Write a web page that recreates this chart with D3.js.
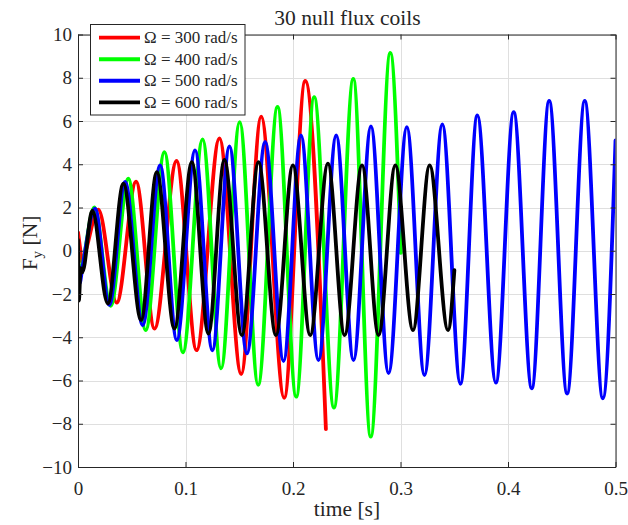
<!DOCTYPE html>
<html><head><meta charset="utf-8">
<script src="https://cdn.jsdelivr.net/npm/d3@7"></script>
<style>
body{margin:0;background:#fff}
svg{display:block}
text{font-family:"Liberation Serif","Times New Roman",serif;fill:#262626}
</style>
</head><body>
<svg id="c" width="628" height="525"></svg>
<script>
// ---- data ----
const xTicks = [0, 0.1, 0.2, 0.3, 0.4, 0.5];
const yTicks = [-10, -8, -6, -4, -2, 0, 2, 4, 6, 8, 10];
const seriesNames = ["\u03A9 = 300 rad/s", "\u03A9 = 400 rad/s", "\u03A9 = 500 rad/s", "\u03A9 = 600 rad/s"];
const seriesColors = ["#ff0000", "#00ff00", "#0000ff", "#000000"];

// 300 rad/s (red) – start + extrema
const t300 = [0, 0.002, 0.0035, 0.006, 0.0189, 0.0360, 0.0540, 0.0712, 0.0917, 0.1103, 0.1316, 0.1518, 0.1704, 0.1918, 0.2114, 0.2306];
const f300 = [0.85, 0.1, -0.5, -0.2, 1.9, -2.4, 3.2, -3.6, 4.15, -4.6, 5.2, -5.7, 6.2, -6.8, 7.85, -8.25];

// 400 rad/s (green)
const t400 = [0, 0.0015, 0.004, 0.0152, 0.0304, 0.0468, 0.0630, 0.0804, 0.0976, 0.1159, 0.1331, 0.1504, 0.1676, 0.1856, 0.2030, 0.2197, 0.2381, 0.2561, 0.2723, 0.2905, 0.3003];
const f400 = [0.2, -1.2, -0.7, 2.0, -2.55, 3.33, -3.67, 4.56, -4.7, 5.15, -5.44, 5.95, -6.2, 6.65, -6.75, 7.1, -7.25, 7.95, -8.6, 9.15, -0.1];

// 500 rad/s (blue)
const t500 = [0, 0.0015, 0.004, 0.0158, 0.0291, 0.0438, 0.0602, 0.0764, 0.0919, 0.1089, 0.1250, 0.1409, 0.1571, 0.1741, 0.1912, 0.2074, 0.2237, 0.2402, 0.2563, 0.2725, 0.2889, 0.3059, 0.3223, 0.3389, 0.3557, 0.3715, 0.3887, 0.4053, 0.4221, 0.4383, 0.4550, 0.4714, 0.4882, 0.5];
const f500 = [-0.5, -1.5, -0.8, 1.95, -2.5, 3.18, -3.44, 3.95, -4.13, 4.64, -4.6, 4.83, -4.75, 5.03, -5.1, 5.33, -5.06, 5.33, -5.06, 5.75, -5.66, 5.72, -5.75, 5.84, -6.15, 6.26, -6.1, 6.41, -6.36, 6.93, -6.6, 6.93, -6.82, 5.1];

// 600 rad/s (black)
const t600 = [0, 0.0008, 0.0025, 0.004, 0.0133, 0.0277, 0.0422, 0.0587, 0.0733, 0.0897, 0.1059, 0.1213, 0.1362, 0.1524, 0.1679, 0.1841, 0.1999, 0.2160, 0.2325, 0.2480, 0.2642, 0.2796, 0.2952, 0.3116, 0.3271, 0.3442, 0.3501];
const f600 = [0.5, -2.3, -0.8, -1.0, 1.85, -2.44, 3.1, -3.2, 3.64, -3.6, 4.1, -3.83, 4.2, -3.9, 4.1, -3.9, 3.95, -3.9, 4.03, -3.9, 3.95, -3.9, 3.95, -3.67, 3.95, -3.67, -0.9];

const seriesT = [t300, t400, t500, t600];
const seriesF = [f300, f400, f500, f600];

// ---- layout ----
const L = 78, R = 615.5, T = 34.5, B = 467;
const svg = d3.select("#c");
const x = d3.scaleLinear().domain([0, 0.5]).range([L, R]);
const y = d3.scaleLinear().domain([-10, 10]).range([B, T]);

svg.append("rect").attr("x", L).attr("y", T).attr("width", R - L).attr("height", B - T).attr("fill", "#fff");

// grid
const grid = svg.append("g").attr("stroke", "#dfdfdf").attr("stroke-width", 1);
grid.selectAll("line.gx").data(xTicks).join("line")
  .attr("x1", d => Math.round(x(d)) + 0.5).attr("x2", d => Math.round(x(d)) + 0.5)
  .attr("y1", T).attr("y2", B);
grid.selectAll("line.gy").data(yTicks).join("line")
  .attr("y1", d => Math.round(y(d)) + 0.5).attr("y2", d => Math.round(y(d)) + 0.5)
  .attr("x1", L).attr("x2", R);

svg.append("clipPath").attr("id", "clip").append("rect")
  .attr("x", L).attr("y", T).attr("width", R - L).attr("height", B - T);

// series
const line = d3.line().x(d => x(d[0])).y(d => y(d[1])).curve(d3.curveMonotoneX);
const plot = svg.append("g").attr("clip-path", "url(#clip)");
seriesT.forEach((ts, i) => {
  const pts = ts.map((t, k) => [t, seriesF[i][k]]);
  plot.append("path").datum(pts)
    .attr("d", line)
    .attr("fill", "none")
    .attr("stroke", seriesColors[i])
    .attr("stroke-width", 3.8)
    .attr("stroke-linejoin", "round")
    .attr("stroke-linecap", "round");
});

// axes
const tickFont = "19px";
function styleAxis(g) {
  g.select(".domain").attr("stroke", "#262626").attr("stroke-width", 1);
  g.selectAll(".tick line").attr("stroke", "#262626");
  g.selectAll(".tick text").attr("fill", "#262626").style("font-size", tickFont)
    .style("font-family", "'Liberation Serif','Times New Roman',serif");
}
const fmtX = d => d === 0 ? "0" : d3.format(".1f")(d);
svg.append("g").attr("transform", `translate(0,${B})`)
  .call(d3.axisBottom(x).tickValues(xTicks).tickFormat(fmtX).tickSize(-5).tickSizeOuter(0).tickPadding(15))
  .call(styleAxis);
svg.append("g").attr("transform", `translate(0,${T})`)
  .call(d3.axisTop(x).tickValues(xTicks).tickFormat("").tickSize(-5).tickSizeOuter(0))
  .call(styleAxis);
svg.append("g").attr("transform", `translate(${L},0)`)
  .call(d3.axisLeft(y).tickValues(yTicks).tickFormat(d3.format("d")).tickSize(-5).tickSizeOuter(0).tickPadding(6))
  .call(styleAxis);
svg.append("g").attr("transform", `translate(${R},0)`)
  .call(d3.axisRight(y).tickValues(yTicks).tickFormat("").tickSize(-5).tickSizeOuter(0))
  .call(styleAxis);

// title & labels
svg.append("text").attr("x", 347.5).attr("y", 25).attr("text-anchor", "middle")
  .style("font-size", "21.5px").text("30 null flux coils");
svg.append("text").attr("x", 347).attr("y", 516).attr("text-anchor", "middle")
  .style("font-size", "21.5px").text("time [s]");
const yl = svg.append("text").attr("transform", "translate(37,243) rotate(-90)")
  .attr("text-anchor", "middle").style("font-size", "21.5px");
yl.append("tspan").text("F");
yl.append("tspan").attr("dy", 5).style("font-size", "15px").text("y");
yl.append("tspan").attr("dy", -5).text(" [N]");

// legend
const lg = svg.append("g");
lg.append("rect").attr("x", 90.5).attr("y", 24.5).attr("width", 154.5).attr("height", 90.5)
  .attr("fill", "#fff").attr("stroke", "#262626").attr("stroke-width", 1);
const rowY = d3.scalePoint().domain(d3.range(seriesNames.length)).range([37.7, 102.3]);
seriesNames.forEach((nm, i) => {
  lg.append("line").attr("x1", 99).attr("x2", 140).attr("y1", rowY(i)).attr("y2", rowY(i))
    .attr("stroke", seriesColors[i]).attr("stroke-width", 3.8);
  lg.append("text").attr("x", 144).attr("y", rowY(i)).attr("dy", "0.33em")
    .style("font-size", "17px").text(nm);
});
</script>
</body></html>
